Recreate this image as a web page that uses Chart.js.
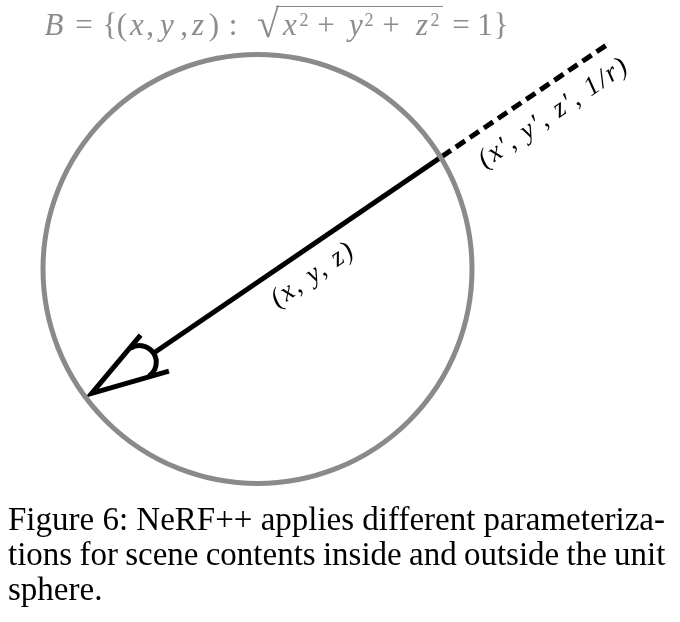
<!DOCTYPE html>
<html>
<head>
<meta charset="utf-8">
<script src="https://cdn.jsdelivr.net/npm/chart.js@4.4.1/dist/chart.umd.min.js"></script>
<style>
  html, body { margin: 0; padding: 0; background: #fff; }
  #wrap { position: relative; width: 680px; height: 622px; overflow: hidden; }
  #diagram { position: absolute; left: 0; top: 0; }
  #formula { position: absolute; left: 0; top: 0; width: 680px; height: 50px;
    font-family: "Liberation Serif", serif; color: #8c8c8c; }
  #formula span { position: absolute; top: 10px; font-size: 31px; line-height: 30px;
    white-space: nowrap; transform: translateX(-50%); }
  #formula span.i { font-style: italic; }
  #formula span.sup { font-size: 18px; line-height: 18px; top: 11px; }
  #formula span.rad { font-size: 40px; line-height: 40px; top: 4px; }
  #formula .bar { position: absolute; left: 276px; top: 6px; width: 167px; height: 0; border-top: 1.6px solid #8c8c8c; }
  #caption {
    position: absolute; left: 8px; top: 502px;
    font-family: "Liberation Serif", serif; font-size: 33px; line-height: 35px;
    color: #000; white-space: nowrap;
  }
  #caption .l2 { word-spacing: -1px; }
</style>
</head>
<body>
<div id="wrap">
  <canvas id="diagram" width="680" height="622"></canvas>
  <div id="formula">
    <span class="i" style="left:54px">B</span>
    <span style="left:84px">=</span>
    <span style="left:110px">{</span>
    <span style="left:122px">(</span>
    <span class="i" style="left:137px">x</span>
    <span style="left:150px">,</span>
    <span class="i" style="left:167px">y</span>
    <span style="left:184px">,</span>
    <span class="i" style="left:198px">z</span>
    <span style="left:214px">)</span>
    <span style="left:233px">:</span>
    <span class="rad" style="left:268px">√</span>
    <div class="bar"></div>
    <span class="i" style="left:290px">x</span>
    <span class="sup" style="left:304px">2</span>
    <span style="left:326px">+</span>
    <span class="i" style="left:356px">y</span>
    <span class="sup" style="left:369px">2</span>
    <span style="left:391px">+</span>
    <span class="i" style="left:422px">z</span>
    <span class="sup" style="left:435px">2</span>
    <span style="left:461px">=</span>
    <span style="left:485px">1</span>
    <span style="left:501px">}</span>
  </div>
  <div id="caption">Figure 6: NeRF++ applies different parameteriza-<br><span class="l2">tions for scene contents inside and outside the unit</span><br>sphere.</div>
</div>
<script>
// unit sphere coordinates (radius 1, centre at origin, y up)
const sphereCenter = [{x: 0, y: 0}];
const sphereRadius = 1;
const rayInside = [{x: -0.487, y: -0.394}, {x: 0.859, y: 0.524}];
const rayOutside = [{x: 0.859, y: 0.524}, {x: 1.634, y: 1.049}];
const cameraFrustum = [{x: -0.545, y: -0.308}, {x: -0.773, y: -0.580}, {x: -0.413, y: -0.476}];
const cameraLens = {x: -0.550, y: -0.435, r: 0.078};
const pointLabels = ['(x, y, z)', '(x\u2032, y\u2032, z\u2032, 1/r)'];
const labelAnchors = [{x: 0.259, y: -0.028}, {x: 1.382, y: 0.727}];

const gray = '#8a8a8a';

// draws the lens arc of the camera and the two rotated point labels
const extrasPlugin = {
  id: 'extras',
  afterDatasetsDraw(chart) {
    const ctx = chart.ctx;
    const xs = chart.scales.x, ys = chart.scales.y;
    const px = p => ({x: xs.getPixelForValue(p.x), y: ys.getPixelForValue(p.y)});

    // lens arc, bulging towards the ray
    const c = px(cameraLens);
    const r = xs.getPixelForValue(cameraLens.r) - xs.getPixelForValue(0);
    const s = px(rayInside[0]);
    const a = Math.atan2(s.y - c.y, s.x - c.x);
    ctx.save();
    ctx.strokeStyle = '#000';
    ctx.lineWidth = 5;
    ctx.beginPath();
    ctx.arc(c.x, c.y, r, a - Math.PI / 2, a + Math.PI / 2, false);
    ctx.stroke();
    ctx.restore();

    // labels rotated along the ray
    const p0 = px(rayInside[0]), p1 = px(rayOutside[1]);
    const ang = Math.atan2(p1.y - p0.y, p1.x - p0.x);
    ctx.save();
    ctx.fillStyle = '#000';
    ctx.font = 'italic 27px "Liberation Serif"';
    ctx.textAlign = 'center';
    ctx.textBaseline = 'middle';
    if ('letterSpacing' in ctx) ctx.letterSpacing = '2px';
    pointLabels.forEach((txt, i) => {
      const q = px(labelAnchors[i]);
      ctx.save();
      ctx.translate(q.x, q.y);
      ctx.rotate(ang);
      ctx.fillText(txt, 0, 0);
      ctx.restore();
    });
    ctx.restore();
  }
};

new Chart(document.getElementById('diagram'), {
  type: 'scatter',
  data: {
    datasets: [
      {
        label: 'sphere',
        data: sphereCenter,
        pointRadius: ctx => ctx.chart.scales.x.getPixelForValue(sphereRadius) - ctx.chart.scales.x.getPixelForValue(0),
        pointBorderWidth: 5,
        pointBorderColor: gray,
        pointBackgroundColor: 'rgba(0,0,0,0)',
        showLine: false
      },
      {
        label: 'ray inside',
        data: rayInside,
        showLine: true,
        borderColor: '#000',
        borderWidth: 5,
        pointRadius: 0
      },
      {
        label: 'ray outside',
        data: rayOutside,
        showLine: true,
        borderColor: '#000',
        borderWidth: 5,
        borderDash: [11, 6],
        pointRadius: 0
      },
      {
        label: 'camera',
        data: cameraFrustum,
        showLine: true,
        borderColor: '#000',
        borderWidth: 5,
        borderJoinStyle: 'miter',
        pointRadius: 0
      }
    ]
  },
  options: {
    responsive: false,
    animation: false,
    events: [],
    layout: { padding: 0 },
    plugins: { legend: { display: false }, tooltip: { enabled: false } },
    scales: {
      x: { type: 'linear', display: false, min: -1.2005, max: 1.9697 },
      y: { type: 'linear', display: false, min: -1.6457, max: 1.2541 }
    }
  },
  plugins: [extrasPlugin]
});
</script>
</body>
</html>
